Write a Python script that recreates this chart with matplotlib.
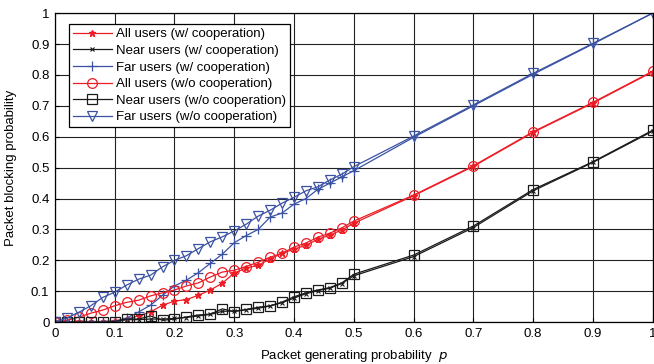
import numpy as np
import matplotlib
matplotlib.use('Agg')
import matplotlib.pyplot as plt

plt.rcParams['font.family'] = ['Liberation Sans', 'DejaVu Sans']

myred = '#ee1c25'
myblue = '#3b52a3'
myblack = '#1a1a1a'

p = [0, 0.02, 0.04, 0.06, 0.08, 0.10, 0.12, 0.14, 0.16, 0.18, 0.20, 0.22, 0.24,
     0.26, 0.28, 0.30, 0.32, 0.34, 0.36, 0.38, 0.40, 0.42, 0.44, 0.46, 0.48, 0.50,
     0.6, 0.7, 0.8, 0.9, 1.0]

all_coop = [0, 0, 0, 0, 0.002, 0.004, 0.01, 0.02, 0.033, 0.055, 0.068, 0.073, 0.087,
            0.104, 0.126, 0.159, 0.175, 0.184, 0.204, 0.223, 0.236, 0.249, 0.268, 0.282, 0.298, 0.32,
            0.409, 0.504, 0.614, 0.709, 0.81]
near_coop = [0, 0, 0, 0, 0, 0.002, 0.008, 0.008, 0.01, 0.01, 0.012, 0.015, 0.02,
             0.025, 0.035, 0.036, 0.04, 0.045, 0.052, 0.063, 0.078, 0.092, 0.102, 0.11, 0.125, 0.15,
             0.212, 0.306, 0.425, 0.517, 0.618]
far_coop = [0, 0, 0.002, 0.002, 0.002, 0.003, 0.013, 0.033, 0.055, 0.087, 0.117, 0.136, 0.16,
            0.19, 0.22, 0.257, 0.28, 0.30, 0.34, 0.353, 0.382, 0.40, 0.43, 0.45, 0.47, 0.49,
            0.598, 0.7, 0.802, 0.9, 1.0]
all_nocoop = [0, 0.006, 0.016, 0.029, 0.039, 0.053, 0.064, 0.071, 0.085, 0.095, 0.104, 0.117, 0.127,
              0.146, 0.162, 0.168, 0.18, 0.194, 0.21, 0.223, 0.243, 0.256, 0.275, 0.288, 0.305, 0.327,
              0.411, 0.506, 0.616, 0.711, 0.812]
near_nocoop = [0, 0, 0, 0, 0, 0.002, 0.01, 0.01, 0.02, 0.006, 0.01, 0.017, 0.023,
               0.026, 0.043, 0.034, 0.041, 0.048, 0.053, 0.065, 0.082, 0.095, 0.104, 0.112, 0.127, 0.155,
               0.217, 0.311, 0.429, 0.519, 0.621]
far_nocoop = [0, 0.013, 0.032, 0.053, 0.08, 0.097, 0.12, 0.139, 0.152, 0.179, 0.2, 0.215, 0.238,
              0.26, 0.276, 0.295, 0.317, 0.343, 0.362, 0.385, 0.404, 0.425, 0.438, 0.46, 0.479, 0.503,
              0.602, 0.703, 0.805, 0.902, 1.0]

fig = plt.figure(figsize=(6.54, 3.64), dpi=100)
ax = fig.add_axes([0.084, 0.115, 0.914, 0.849])

lw = 0.9
ax.plot(p, all_coop, color=myred, marker='*', ms=5, lw=lw, label='All users (w/ cooperation)')
ax.plot(p, near_coop, color=myblack, marker='x', ms=3.5, mew=0.8, lw=lw, label='Near users (w/ cooperation)')
ax.plot(p, far_coop, color=myblue, marker='+', ms=7, mew=0.9, lw=lw, label='Far users (w/ cooperation)')
ax.plot(p, all_nocoop, color=myred, marker='o', ms=7, mfc='none', mew=0.9, lw=lw, label='All users (w/o cooperation)')
ax.plot(p, near_nocoop, color=myblack, marker='s', ms=7, mfc='none', mew=0.9, lw=lw, label='Near users (w/o cooperation)')
ax.plot(p, far_nocoop, color=myblue, marker='v', ms=7.5, mfc='none', mew=0.9, lw=lw, label='Far users (w/o cooperation)')

ax.set_xlim(0, 1)
ax.set_ylim(0, 1)
ax.set_xticks(np.arange(0, 1.01, 0.1))
ax.set_yticks(np.arange(0, 1.01, 0.1))
ax.set_xticklabels(['0', '0.1', '0.2', '0.3', '0.4', '0.5', '0.6', '0.7', '0.8', '0.9', '1'])
ax.set_yticklabels(['0', '0.1', '0.2', '0.3', '0.4', '0.5', '0.6', '0.7', '0.8', '0.9', '1'])
ax.grid(color='#222222', lw=0.8, ls='-')
ax.set_axisbelow(True)
ax.tick_params(labelsize=9.5, direction='in', length=3, pad=4)
for s in ax.spines.values():
    s.set_linewidth(0.9)

ax.set_xlabel(r'Packet generating probability  $p$', fontsize=9.5, labelpad=6)
ax.set_ylabel('Packet blocking probability', fontsize=9.5, labelpad=10)

leg = ax.legend(loc='upper left', bbox_to_anchor=(0.023, 0.964), fontsize=9.5, fancybox=False,
                framealpha=1, edgecolor='black', borderpad=0.3, labelspacing=0.33,
                handlelength=3.0, handletextpad=0.3, borderaxespad=0)
leg.get_frame().set_linewidth(0.9)

plt.savefig('out.png', dpi=100)
